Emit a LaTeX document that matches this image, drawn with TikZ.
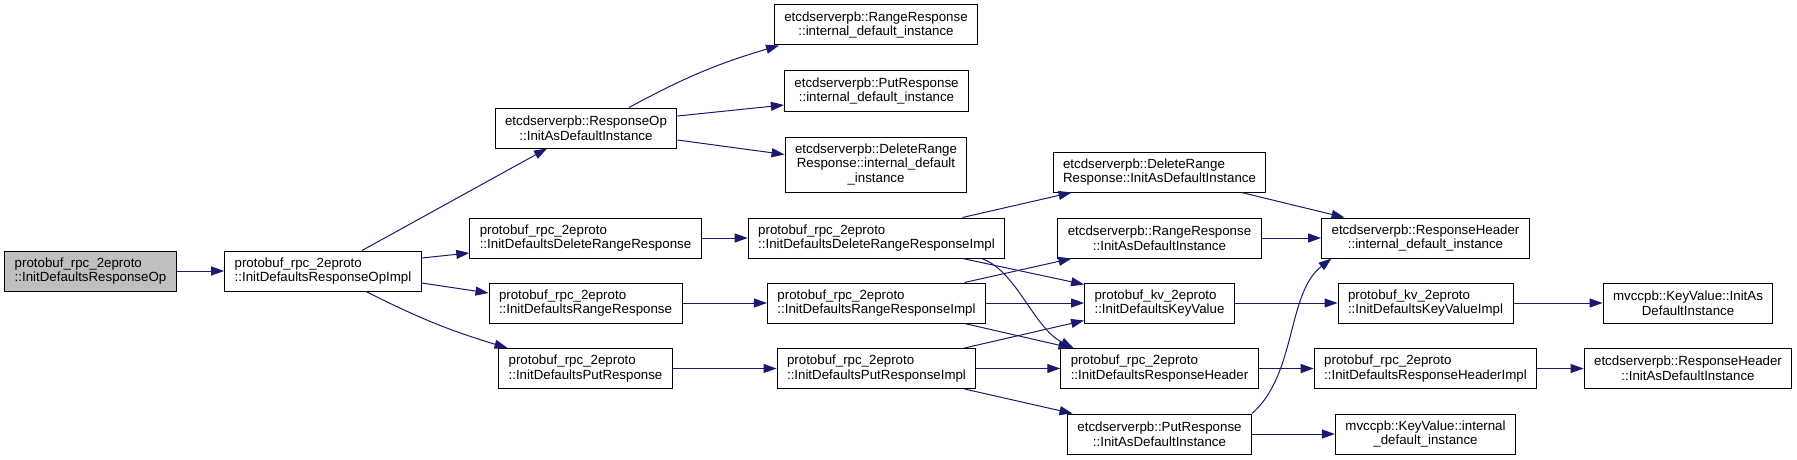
\documentclass[tikz,border=0pt]{standalone}
\usepackage{fontspec}
\setmainfont{Liberation Sans}
\usetikzlibrary{arrows.meta}
\definecolor{callblue}{HTML}{191970}
\definecolor{rootgrey}{HTML}{BFBFBF}
\tikzset{
  func/.style={
    draw=black,rectangle,line width=1pt,fill=white,
    inner xsep=10pt,inner ysep=0pt,minimum height=40pt,
    font=\fontsize{13.3}{14.7}\selectfont
  },
  funcl/.style={func,align=left},
  funcc/.style={func,align=center},
  funcroot/.style={funcl,fill=rootgrey},
  call/.style={-{Triangle[length=13pt,width=9pt]},line width=1pt,color=callblue}
}

\begin{document}
\begin{tikzpicture}[x=1pt,y=-1pt]
\useasboundingbox (0,0) rectangle (1797,460);

\node[funcroot] (root) at (90.5,271) {protobuf\_rpc\_2eproto\\::InitDefaultsResponseOp};
\node[funcl] (impl) at (323,271) {protobuf\_rpc\_2eproto\\::InitDefaultsResponseOpImpl};

\node[funcc] (respop) at (586,128) {etcdserverpb::ResponseOp\\::InitAsDefaultInstance};
\node[funcl] (delrr) at (585.5,238) {protobuf\_rpc\_2eproto\\::InitDefaultsDeleteRangeResponse};
\node[funcl] (rr) at (585.5,303) {protobuf\_rpc\_2eproto\\::InitDefaultsRangeResponse};
\node[funcl] (putr) at (585.5,368.5) {protobuf\_rpc\_2eproto\\::InitDefaultsPutResponse};

\node[funcc] (rrint) at (876,25) {etcdserverpb::RangeResponse\\::internal\_default\_instance};
\node[funcc] (putint) at (876.5,91) {etcdserverpb::PutResponse\\::internal\_default\_instance};
\node[funcc,minimum height=55pt] (delint) at (876,164.5) {etcdserverpb::DeleteRange\\Response::internal\_default\\\_instance};
\node[funcl] (delimpl) at (876.5,238) {protobuf\_rpc\_2eproto\\::InitDefaultsDeleteRangeResponseImpl};
\node[funcl] (rrimpl) at (876.5,303) {protobuf\_rpc\_2eproto\\::InitDefaultsRangeResponseImpl};
\node[funcl] (putimpl) at (876.5,368.5) {protobuf\_rpc\_2eproto\\::InitDefaultsPutResponseImpl};

\node[funcl] (delinit) at (1159.5,172) {etcdserverpb::DeleteRange\\Response::InitAsDefaultInstance};
\node[funcc] (rrinit) at (1159.5,238) {etcdserverpb::RangeResponse\\::InitAsDefaultInstance};
\node[funcl] (kv) at (1159.5,303) {protobuf\_kv\_2eproto\\::InitDefaultsKeyValue};
\node[funcl] (hdr) at (1159.5,368.5) {protobuf\_rpc\_2eproto\\::InitDefaultsResponseHeader};
\node[funcc] (putinit) at (1159.5,434) {etcdserverpb::PutResponse\\::InitAsDefaultInstance};

\node[funcc] (hdrint) at (1425.5,238) {etcdserverpb::ResponseHeader\\::internal\_default\_instance};
\node[funcl] (kvimpl) at (1425.5,303) {protobuf\_kv\_2eproto\\::InitDefaultsKeyValueImpl};
\node[funcl] (hdrimpl) at (1425.5,368.5) {protobuf\_rpc\_2eproto\\::InitDefaultsResponseHeaderImpl};
\node[funcc] (mvint) at (1425.5,434) {mvccpb::KeyValue::internal\\\_default\_instance};

\node[funcc] (kvinit) at (1688,303) {mvccpb::KeyValue::InitAs\\DefaultInstance};
\node[funcc] (hdrinit) at (1688,368.5) {etcdserverpb::ResponseHeader\\::InitAsDefaultInstance};

\draw[call] (root) -- (impl);
\draw[call] ([xshift=39pt]impl.north) -- ([xshift=-39pt]respop.south);
\draw[call] ([yshift=13pt]impl.east) -- ([yshift=-15pt]delrr.west);
\draw[call] ([yshift=-12pt]impl.east) -- ([yshift=10pt]rr.west);
\draw[call] ([xshift=43pt]impl.south) to[bend right=5] ([xshift=-78pt]putr.north);

\draw[call] ([xshift=43pt]respop.north) to[bend left=6] ([xshift=-97pt]rrint.south);
\draw[call] ([yshift=12pt]respop.east) -- ([yshift=-14pt]putint.west);
\draw[call] ([yshift=-12pt]respop.east) -- ([yshift=10pt]delint.west);
\draw[call] (delrr) -- (delimpl);
\draw[call] (rr) -- (rrimpl);
\draw[call] (putr) -- (putimpl);

\draw[call] ([xshift=86pt]delimpl.north) -- ([xshift=-88pt]delinit.south);
\draw[call] ([xshift=86pt]delimpl.south) -- ([yshift=-2pt]kv.north west);
\draw[call] ([xshift=105pt]delimpl.south) .. controls +(35,12) and +(-40,-20) .. ([xshift=-86pt]hdr.north);
\draw[call] ([xshift=88pt]rrimpl.north) -- ([xshift=-88pt]rrinit.south);
\draw[call] (rrimpl) -- (kv);
\draw[call] ([xshift=88pt]rrimpl.south) -- ([xshift=-88pt]hdr.north);
\draw[call] ([xshift=88pt]putimpl.north) -- ([yshift=3pt]kv.south west);
\draw[call] (putimpl) -- (hdr);
\draw[call] ([xshift=88pt]putimpl.south) -- ([xshift=-87pt]putinit.north);

\draw[call] ([xshift=82pt]delinit.south) -- ([xshift=-81pt]hdrint.north);
\draw[call] (rrinit) -- (hdrint);
\draw[call] (kv) -- (kvimpl);
\draw[call] (hdr) -- (hdrimpl);
\draw[call] (putinit.north east) .. controls +(45,-40) and +(-45,35) .. ([xshift=-94pt]hdrint.south);
\draw[call] (putinit) -- (mvint);
\draw[call] (kvimpl) -- (kvinit);
\draw[call] (hdrimpl) -- (hdrinit);

\end{tikzpicture}
\end{document}
